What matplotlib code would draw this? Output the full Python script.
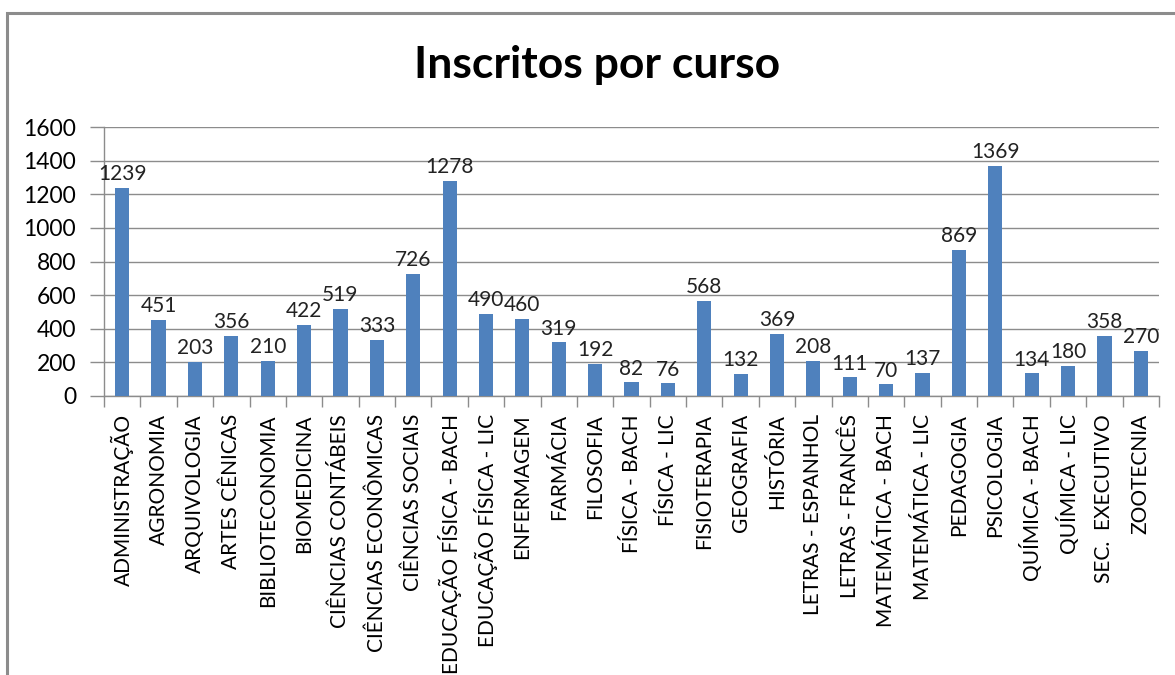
import matplotlib
matplotlib.use("Agg")
import matplotlib.pyplot as plt
from matplotlib.patches import Rectangle

categories = ["ADMINISTRAÇÃO", "AGRONOMIA", "ARQUIVOLOGIA", "ARTES CÊNICAS", "BIBLIOTECONOMIA",
              "BIOMEDICINA", "CIÊNCIAS CONTÁBEIS", "CIÊNCIAS ECONÔMICAS", "CIÊNCIAS SOCIAIS",
              "EDUCAÇÃO FÍSICA - BACH", "EDUCAÇÃO FÍSICA - LIC", "ENFERMAGEM", "FARMÁCIA",
              "FILOSOFIA", "FÍSICA - BACH", "FÍSICA - LIC", "FISIOTERAPIA", "GEOGRAFIA",
              "HISTÓRIA", "LETRAS - ESPANHOL", "LETRAS - FRANCÊS", "MATEMÁTICA - BACH",
              "MATEMÁTICA - LIC", "PEDAGOGIA", "PSICOLOGIA", "QUÍMICA - BACH", "QUÍMICA - LIC",
              "SEC.  EXECUTIVO", "ZOOTECNIA"]
values = [1239, 451, 203, 356, 210, 422, 519, 333, 726, 1278, 490, 460, 319, 192, 82, 76,
          568, 132, 369, 208, 111, 70, 137, 869, 1369, 134, 180, 358, 270]
yticks = [0, 200, 400, 600, 800, 1000, 1200, 1400, 1600]

plt.rcParams['font.family'] = ['Lato', 'DejaVu Sans']

W, H = 1175, 675
fig = plt.figure(figsize=(W / 100, H / 100), dpi=100)

# outer chart frame
fig.patches.append(Rectangle((7 / W, -0.1), 1.2, 1 - 13 / H + 0.1, transform=fig.transFigure,
                             fill=False, edgecolor="#8c8c8c", linewidth=2.2))

left, right, top, bottom = 104, 1159, 127, 396
ax = fig.add_axes([left / W, 1 - bottom / H, (right - left) / W, (bottom - top) / H])

n = len(categories)
x = list(range(n))
ax.bar(x, values, width=0.39, color="#4F81BD", zorder=3)
for xi, v in zip(x, values):
    ax.text(xi, v + 22, str(v), ha="center", va="bottom", fontsize=15, color="#222222")

ax.set_xlim(-0.5, n - 0.5)
ax.set_ylim(0, 1600)
ax.set_yticks(yticks)
ax.set_yticklabels([str(t) for t in yticks], fontsize=16.5)
ax.yaxis.grid(True, color="#8c8c8c", linewidth=1.0, zorder=0)
ax.tick_params(axis="y", length=10, width=1, color="#8c8c8c", pad=10)

ax.set_xticks([i + 0.5 for i in range(-1, n)], minor=False)
ax.set_xticklabels([])
ax.tick_params(axis="x", which="major", length=8, width=1, color="#8c8c8c")
ax.set_xticks(x, minor=True)
ax.set_xticklabels(categories, minor=True, rotation=90, fontsize=15, va="top", ha="center")
ax.tick_params(axis="x", which="minor", length=0, pad=13)

for s in ["top", "right"]:
    ax.spines[s].set_visible(False)
for s in ["left", "bottom"]:
    ax.spines[s].set_color("#8c8c8c")
    ax.spines[s].set_linewidth(1)

fig.text(597 / W, 1 - 65 / H, "Inscritos por curso", ha="center", va="center",
         fontsize=32, fontweight="bold", color="#000000")

fig.savefig("out.png", dpi=100)
